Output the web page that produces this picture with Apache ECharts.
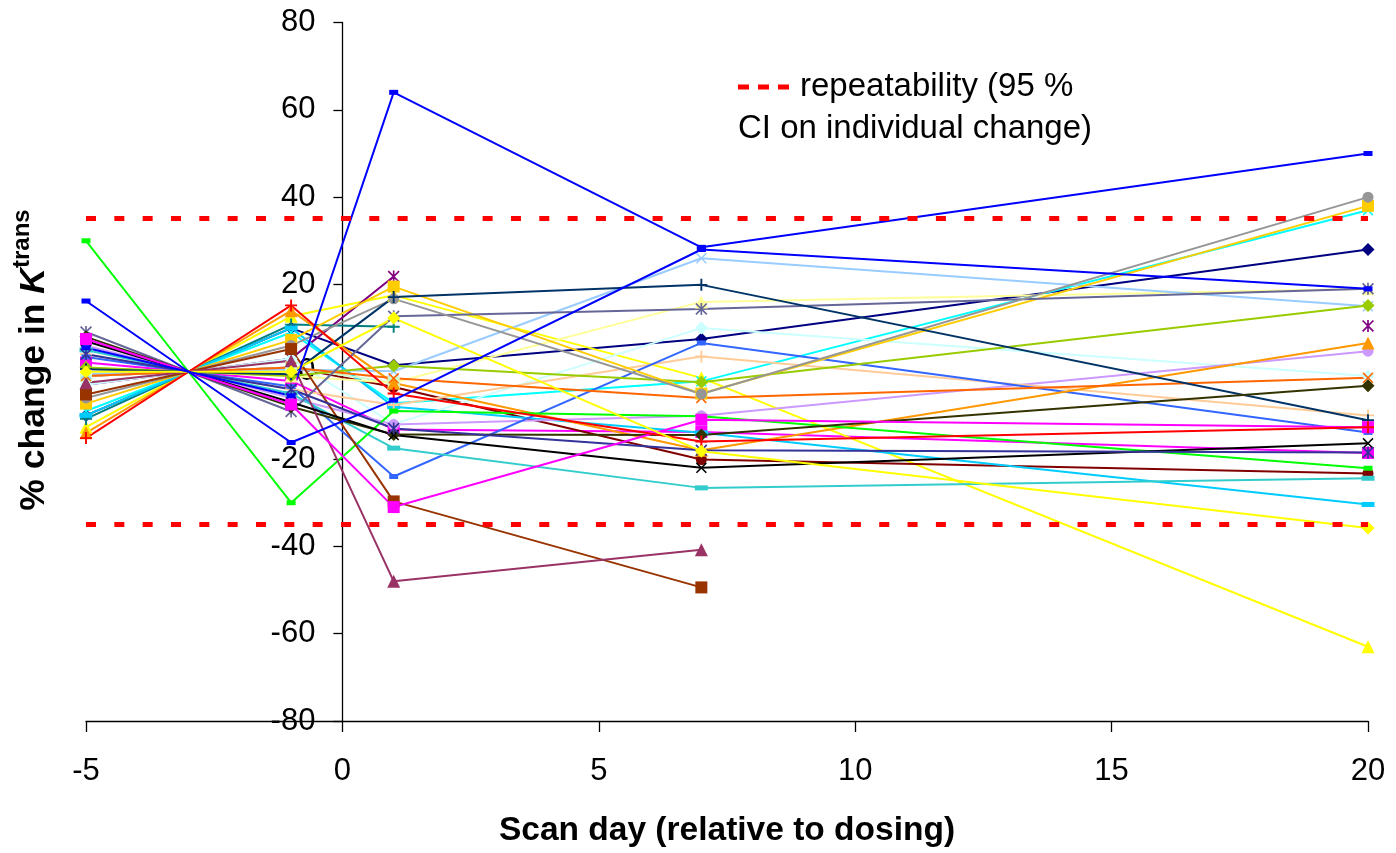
<!DOCTYPE html>
<html><head><meta charset="utf-8">
<script src="https://cdn.jsdelivr.net/npm/echarts@6/dist/echarts.min.js"></script>
<style>html,body{margin:0;padding:0;background:#fff}#c{width:1396px;height:853px}</style>
</head><body><div id="c"></div>
<script>
// Scan days (relative to dosing); -3 is the mean-baseline anchor (0 %)
const days = [-5, -3, -1, 1, 7, 20];
const xTicks = [-5, 0, 5, 10, 15, 20];
const yTicks = [-80, -60, -40, -20, 0, 20, 40, 60, 80];
const repeatability = [35.2, -35.0];
const legendLines = ['repeatability (95 %', 'CI on individual change)'];
const xTitle = 'Scan day (relative to dosing)';

// % change in Ktrans per subject, values at days [-5,-3,-1,1,7,20] (null = no scan)
const sNavy      = [-10, 0, 10, 1.5, 7.5, 28];
const sMagenta   = [2.1, 0, -2.1, -13.2, -13.8, -18.6];
const sYellowTri = [-12.7, 0, 12.7, 17.5, -1.4, -63];
const sCyan      = [-9, 0, 9, -7.2, -2.2, 37];
const sPurple    = [-3, 0, 3, 21.8, null, 10.5];
const sDarkRed   = [-1, 0, 1, -3.5, -20.1, -23.3];
const sTeal      = [-10.8, 0, 10.8, 10.3, null, null];
const sBlueA     = [16.2, 0, -16.2, -6.5, 28, 19];
const sSky       = [-10, 0, 10, -8, -14, -30.4];
const sPaleCyan  = [-3, 0, 3, -12, 10, -1];
const sPaleGreen = [-1, 0, 1, -2.5, null, null];
const sPaleYel   = [1, 0, -1, -2.5, 16, 19];
const sPaleBlue  = [-0.5, 0, 0.5, 0.1, 26, 15];
const sLavender  = [6, 0, -6, -12.1, -10.1, 4.7];
const sPeach     = [4, 0, -4, -7.6, 3.5, -10];
const sRoyal     = [3.4, 0, -3.4, -24, 6.6, -13.9];
const sTurq      = [5, 0, -5, -17.5, -26.6, -24.4];
const sLime      = [1, 0, -1, 1.4, -2.4, 15.2];
const sGold      = [-7.3, 0, 7.3, 19.5, -5, 38];
const sOrange    = [-14, 0, 14, -2.6, -18, 6.6];
const sOrangeX   = [-1, 0, 1, -1.5, -6, -1.4];
const sSlate     = [9.1, 0, -9.1, 12.7, 14.4, 19];
const sGray      = [-6, 0, 6, 16.7, -5.1, 40];
const sDarkSlate = [0.6, 0, -0.6, 17.1, 19.9, -11.1];
const sGreen     = [30, 0, -30, -9, -10.2, -22.1];
const sOlive     = [8, 0, -8, -14.4, -14.5, -3.2];
const sBrown     = [-5.2, 0, 5.2, -29.7, -49.4, null];
const sPlum      = [-2.5, 0, 2.5, -48, -40.8, null];
const sBlack     = [7, 0, -7, -14.5, -22, -16.4];
const sRed       = [-15.2, 0, 15.2, -5, -16, -12.7];
const sMagenta2  = [7.5, 0, -7.5, -31, -11, -12.7];
const sBlueB     = [5.5, 0, -5.5, 64, 28.5, 50];
const sYellowDia = [0, 0, 0, 12.3, -18.2, -35.8];
const sIndigo    = [4, 0, -4, -13, -18, -18.5];

const M = {
  diamond: {symbol: 'diamond', size: 13},
  square: {symbol: 'rect', size: 12},
  triangle: {symbol: 'triangle', size: 13},
  circle: {symbol: 'circle', size: 11},
  x: {symbol: 'path://M0,1L1,0L10,9L9,10Z M9,0L10,1L1,10L0,9Z', size: 11},
  star: {symbol: 'path://M0,1L1,0L10,9L9,10Z M9,0L10,1L1,10L0,9Z M4.3,0H5.7V10H4.3Z', size: 12},
  plus: {symbol: 'path://M4.2,0H5.8V4.2H10V5.8H5.8V10H4.2V5.8H0V4.2H4.2Z', size: 12},
  dash: {symbol: 'rect', size: [9, 5]},
  longdash: {symbol: 'rect', size: [13, 5]}
};

const defs = [
  ['navy', sNavy, '#000080', 'diamond'],
  ['magenta', sMagenta, '#FF00FF', 'square'],
  ['yellowTri', sYellowTri, '#FFFF00', 'triangle'],
  ['cyan', sCyan, '#00FFFF', 'x'],
  ['purple', sPurple, '#800080', 'star'],
  ['darkRed', sDarkRed, '#800000', 'circle'],
  ['teal', sTeal, '#008080', 'plus'],
  ['sky', sSky, '#00CCFF', 'longdash'],
  ['paleCyan', sPaleCyan, '#CCFFFF', 'diamond'],
  ['paleGreen', sPaleGreen, '#CCFFCC', 'square'],
  ['paleYellow', sPaleYel, '#FFFF99', 'triangle'],
  ['paleBlue', sPaleBlue, '#99CCFF', 'x'],
  ['lavender', sLavender, '#CC99FF', 'circle'],
  ['peach', sPeach, '#FFCC99', 'plus'],
  ['royal', sRoyal, '#3366FF', 'dash'],
  ['turquoise', sTurq, '#33CCCC', 'longdash'],
  ['lime', sLime, '#99CC00', 'diamond'],
  ['gold', sGold, '#FFCC00', 'square'],
  ['orange', sOrange, '#FF9900', 'triangle'],
  ['orangeX', sOrangeX, '#FF6600', 'x'],
  ['slate', sSlate, '#666699', 'star'],
  ['gray', sGray, '#969696', 'circle'],
  ['darkSlate', sDarkSlate, '#003366', 'plus'],
  ['green', sGreen, '#00FF00', 'dash'],
  ['olive', sOlive, '#333300', 'diamond'],
  ['brown', sBrown, '#993300', 'square'],
  ['plum', sPlum, '#993366', 'triangle'],
  ['black', sBlack, '#000000', 'x'],
  ['indigo', sIndigo, '#333399', 'star'],
  ['magenta2', sMagenta2, '#FF00FF', 'square'],
  ['red', sRed, '#FF0000', 'plus'],
  ['yellowDia', sYellowDia, '#FFFF00', 'diamond'],
  ['blueA', sBlueA, '#0000FF', 'dash'],
  ['blueB', sBlueB, '#0000FF', 'dash']
];

const FONT = '"Liberation Sans", Arial, sans-serif';
const GRID_LEFT = 86, GRID_RIGHT = 28;
const plotW = 1396 - GRID_LEFT - GRID_RIGHT;
// y axis drawn at x = 0: shift from the grid's left edge by the axis scale
const yAxisShift = plotW * (0 - xTicks[0]) / (xTicks[xTicks.length - 1] - xTicks[0]);

function toData(vals) {
  return days.map((d, i) => {
    if (vals[i] === null) return [d, '-'];
    if (d === -3) return {value: [d, vals[i]], symbol: 'none'};
    return [d, vals[i]];
  });
}

const series = defs.map(([name, vals, color, mk]) => ({
  name, type: 'line', data: toData(vals),
  symbol: M[mk].symbol, symbolSize: M[mk].size,
  showSymbol: true, showAllSymbol: true, connectNulls: false,
  lineStyle: {color, width: 2},
  itemStyle: {color, borderWidth: 0},
  emphasis: {disabled: true}, animation: false, z: 2
}));

series.push({
  name: 'repeatability', type: 'line', data: [], silent: true, animation: false,
  markLine: {
    silent: true, symbol: 'none', animation: false,
    label: {show: false},
    lineStyle: {color: '#FF0000', width: 5, type: [10, 18.33]},
    data: repeatability.map(v => ({yAxis: v}))
  }
});

const chart = echarts.init(document.getElementById('c'), null, {renderer: 'canvas'});
chart.setOption({
  backgroundColor: '#ffffff',
  animation: false,
  grid: {left: GRID_LEFT, right: GRID_RIGHT, top: 22.5, bottom: 130.5, containLabel: false},
  xAxis: {
    type: 'value', min: xTicks[0], max: xTicks[xTicks.length - 1], interval: 5,
    position: 'bottom',
    axisLine: {onZero: false, lineStyle: {color: '#000', width: 1.3}},
    axisTick: {show: true, inside: false, length: 11, lineStyle: {color: '#000', width: 1.3}},
    axisLabel: {color: '#000', fontSize: 31, fontFamily: FONT, margin: 35},
    splitLine: {show: false},
    name: xTitle, nameLocation: 'middle', nameGap: 93,
    nameTextStyle: {color: '#000', fontSize: 33.5, fontWeight: 'bold', fontFamily: FONT}
  },
  yAxis: {
    type: 'value', min: yTicks[0], max: yTicks[yTicks.length - 1], interval: 20,
    position: 'left', offset: -yAxisShift,
    axisLine: {show: true, onZero: false, lineStyle: {color: '#000', width: 1.3}},
    axisTick: {show: true, inside: false, length: 9, lineStyle: {color: '#000', width: 1.3}},
    axisLabel: {color: '#000', fontSize: 31, fontFamily: FONT, margin: 27},
    splitLine: {show: false}
  },
  series,
  graphic: [
    {type: 'line', silent: true, shape: {x1: 738, y1: 87, x2: 790, y2: 87},
     style: {stroke: '#FF0000', lineWidth: 5, lineDash: [11, 9]}},
    {type: 'text', silent: true, x: 800, y: 87,
     style: {text: legendLines[0], fill: '#000', fontSize: 33, fontFamily: FONT, align: 'left', verticalAlign: 'middle'}},
    {type: 'text', silent: true, x: 738, y: 129,
     style: {text: legendLines[1], fill: '#000', fontSize: 33, fontFamily: FONT, align: 'left', verticalAlign: 'middle'}},
    {type: 'text', silent: true, x: 31, y: 360, rotation: Math.PI / 2,
     style: {
       text: '{a|% change in }{k|K}{s|trans}', align: 'center', verticalAlign: 'middle',
       rich: {
         a: {fontSize: 35.5, fontWeight: 'bold', fontFamily: FONT, fill: '#000', lineHeight: 42, verticalAlign: 'bottom'},
         k: {fontSize: 35.5, fontWeight: 'bold', fontStyle: 'italic', fontFamily: FONT, fill: '#000', lineHeight: 42, verticalAlign: 'bottom'},
         s: {fontSize: 24, fontWeight: 'bold', fontFamily: FONT, fill: '#000', lineHeight: 27, verticalAlign: 'top'}
       }
     }}
  ]
});
</script>
</body></html>
